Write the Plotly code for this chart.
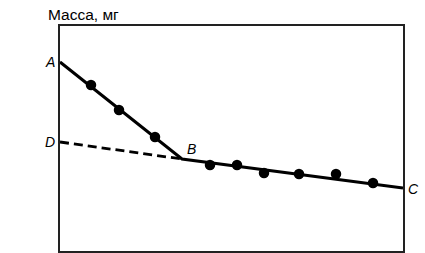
import plotly.graph_objects as go

# Data (arbitrary time units on x, mass units on y)
pt_x = [31, 59, 95, 150, 177, 204, 239, 276, 313]
pt_y = [166, 141, 114, 86, 86, 78, 77, 77, 68]

A = (0, 189)
B = (122, 92)
C = (343, 63)
D = (0, 109)

line_x = [A[0], B[0], C[0]]
line_y = [A[1], B[1], C[1]]
dash_x = [D[0], B[0]]
dash_y = [D[1], B[1]]

fig = go.Figure()
fig.add_trace(go.Scatter(x=dash_x, y=dash_y, mode="lines",
                         line=dict(color="black", width=2.8, dash="9px,5px"),
                         hoverinfo="skip"))
fig.add_trace(go.Scatter(x=line_x, y=line_y, mode="lines",
                         line=dict(color="black", width=3),
                         hoverinfo="skip"))
fig.add_trace(go.Scatter(x=pt_x, y=pt_y, mode="markers",
                         marker=dict(color="black", size=10.5),
                         cliponaxis=False))

font_lbl = dict(family="Liberation Sans, Arial", size=14, color="black")
ann = [
    dict(x=A[0], y=A[1], text="<i>A</i>", xanchor="right", yanchor="middle", xshift=-3),
    dict(x=D[0], y=D[1], text="<i>D</i>", xanchor="right", yanchor="middle", xshift=-3),
    dict(x=B[0], y=B[1], text="<i>B</i>", xanchor="left", yanchor="bottom", xshift=3),
    dict(x=C[0], y=C[1], text="<i>C</i>", xanchor="left", yanchor="middle", xshift=3, yshift=-1),
]
for a in ann:
    a.update(xref="x", yref="y", showarrow=False, font=font_lbl)
    fig.add_annotation(**a)

fig.add_annotation(x=-14/343, y=(251 - 15) / 225, xref="paper", yref="paper",
                   text="Масса, мг", showarrow=False, xanchor="left", yanchor="middle",
                   font=dict(family="Liberation Sans, Arial", size=15.5, color="black"))

fig.update_xaxes(range=[0, 343], showgrid=False, zeroline=False, showticklabels=False,
                 ticks="", showline=True, mirror=True, linecolor="#222", linewidth=2)
fig.update_yaxes(range=[0, 225], showgrid=False, zeroline=False, showticklabels=False,
                 ticks="", showline=True, mirror=True, linecolor="#222", linewidth=2)

fig.update_layout(width=425, height=253, margin=dict(l=60, r=22, t=26, b=2),
                  paper_bgcolor="white", plot_bgcolor="white", showlegend=False)

fig.write_html("out.html")
